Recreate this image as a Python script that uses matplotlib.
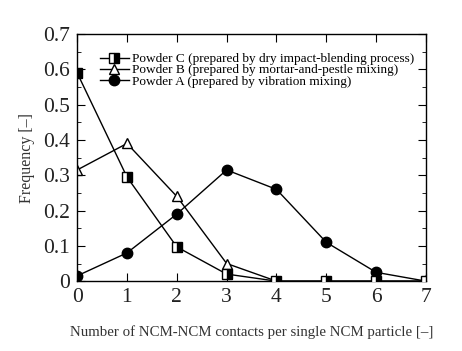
import matplotlib
matplotlib.use("Agg")
import matplotlib.pyplot as plt
from matplotlib.ticker import MultipleLocator

plt.rcParams['font.family'] = ['Liberation Serif', 'DejaVu Serif']

# data
contacts = [0, 1, 2, 3, 4, 5, 6, 7]
powder_c = [0.59, 0.295, 0.097, 0.02, 0.0, 0.0, 0.0, 0.0]
powder_b = [0.315, 0.39, 0.24, 0.05, 0.0, 0.0, 0.0, 0.0]
powder_a = [0.015, 0.08, 0.19, 0.315, 0.26, 0.11, 0.025, 0.0]

fig = plt.figure(figsize=(4.62, 3.51), dpi=100)
ax = fig.add_axes([0.167, 0.199, 0.755, 0.704])

ax.plot(contacts, powder_c, color='black', lw=1, marker='s', ms=6.5,
        fillstyle='right', markerfacecoloralt='white', mfc='black', mec='black',
        mew=1, label='Powder C (prepared by dry impact-blending process)', zorder=3)
ax.plot(contacts, powder_b, color='black', lw=1, marker='^', ms=7.5,
        mfc='white', mec='black', mew=1,
        label='Powder B (prepared by mortar-and-pestle mixing)', zorder=2)
ax.plot(contacts, powder_a, color='black', lw=1, marker='o', ms=7.5,
        mfc='black', mec='black',
        label='Powder A (prepared by vibration mixing)', zorder=2)

ax.set_xlim(0, 7)
ax.set_ylim(0, 0.7)
ax.xaxis.set_major_locator(MultipleLocator(1))
ax.yaxis.set_minor_locator(MultipleLocator(0.05))
ax.set_yticks([0, 0.1, 0.2, 0.3, 0.4, 0.5, 0.6, 0.7])
ax.set_yticklabels(['0', '0.1', '0.2', '0.3', '0.4', '0.5', '0.6', '0.7'])
ax.tick_params(which='both', direction='in', top=True, right=True, labelsize=15.5,
               pad=5, labelcolor='#222222')
ax.tick_params(which='major', length=6)
ax.tick_params(which='minor', length=3)
for s in ax.spines.values():
    s.set_linewidth(1)

ax.set_xlabel('Number of NCM-NCM contacts per single NCM particle [\u2013]',
              fontsize=10.7, color='#333333', labelpad=13)
ax.set_ylabel('Frequency [\u2013]', fontsize=11.5, color='#333333', labelpad=6)

ax.legend(loc='upper left', bbox_to_anchor=(0.05, 0.945), frameon=False,
          fontsize=9.5, handlelength=2.2, handletextpad=0.2, labelspacing=-0.08,
          borderaxespad=0)

fig.savefig('out.png', dpi=100)
